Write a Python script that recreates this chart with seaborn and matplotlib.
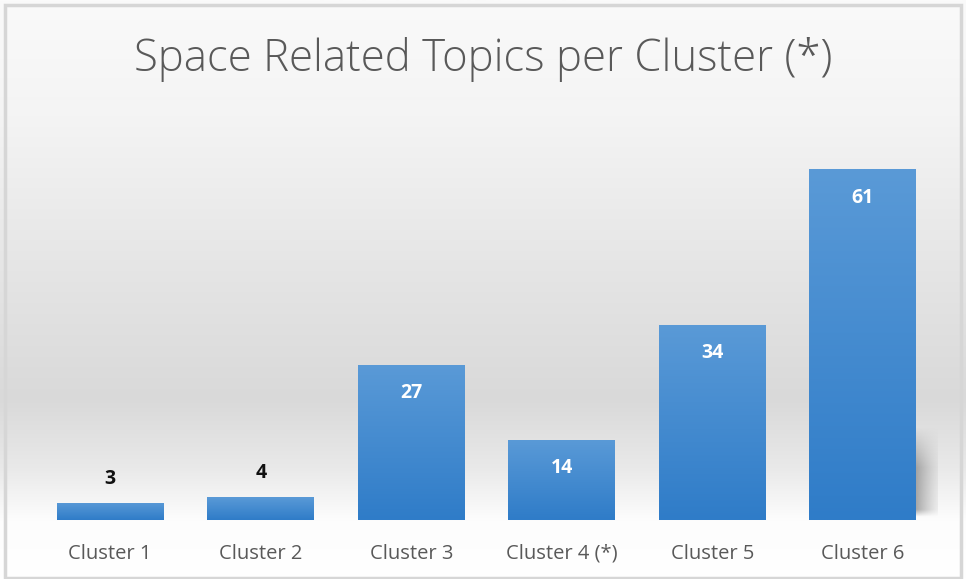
import numpy as np
import pandas as pd
import matplotlib
matplotlib.use("Agg")
import matplotlib.pyplot as plt
import seaborn as sns
from matplotlib.colors import LinearSegmentedColormap
from matplotlib.patches import Rectangle

# Data
clusters = ["Cluster 1", "Cluster 2", "Cluster 3", "Cluster 4 (*)", "Cluster 5", "Cluster 6"]
topics = [3, 4, 27, 14, 34, 61]

df = pd.DataFrame({"cluster": clusters, "topics": topics})

sns.set_theme(style="white")
plt.rcParams["font.family"] = ["Open Sans", "DejaVu Sans"]

fig = plt.figure(figsize=(9.66, 5.79), dpi=100)

# Chart area background: soft vertical gradient
bg = fig.add_axes([0, 0, 1, 1], zorder=0)
bg_cmap = LinearSegmentedColormap.from_list(
    "bg",
    [(0.0, "#ffffff"), (0.10, "#fdfdfd"), (0.19, "#e9e9e9"), (0.31, "#d9d9d9"),
     (0.55, "#e6e6e6"), (0.80, "#f4f4f4"), (1.0, "#fafafa")])
bg.imshow(np.linspace(0, 1, 256).reshape(-1, 1), aspect="auto", cmap=bg_cmap,
          origin="lower", extent=[0, 1, 0, 1])
bg.set_xlim(0, 1)
bg.set_ylim(0, 1)
bg.axis("off")
# outer border
bg.add_patch(Rectangle((0.005, 0.002), 0.99, 0.99, fill=False, edgecolor="#d6d6d6",
                       lw=2.5, transform=bg.transAxes))

ax = fig.add_axes([35 / 966, 59 / 579, 903 / 966, 402.5 / 579], zorder=1)
ax.patch.set_alpha(0)

sns.barplot(data=df, x="cluster", y="topics", color="#3a85cf", width=0.71,
            saturation=1, linewidth=0, ax=ax, zorder=2)

ax.set_ylim(0, 70)
ax.set_xlim(-0.5, 5.5)

# gradient fill on bars
bar_cmap = LinearSegmentedColormap.from_list("bar", ["#2f7cc8", "#5a9ad7"])
grad = np.linspace(0, 1, 256).reshape(-1, 1)
for p in ax.patches:
    x0, w, h = p.get_x(), p.get_width(), p.get_height()
    im = ax.imshow(grad, aspect="auto", cmap=bar_cmap, origin="lower",
                   extent=[x0, x0 + w, 0, h], zorder=3)
    im.set_clip_path(p)

# soft shadow to the right of the tallest bar
last = ax.patches[-1]
sx = last.get_x() + last.get_width()
hx = np.linspace(0, 1, 80)
fade_x = np.clip(1 - hx, 0, 1) ** 1.5
vy = np.linspace(0, 1, 120)  # bottom -> top
fade_y = np.where(vy < 0.08, vy / 0.08, 1.0) * np.clip((1 - vy) / 0.45, 0, 1)
shadow = np.outer(fade_y, fade_x)
sh_cmap = LinearSegmentedColormap.from_list("sh", [(0.55, 0.55, 0.55, 0), (0.55, 0.55, 0.55, 0.75)])
ax.imshow(shadow, aspect="auto", cmap=sh_cmap, vmin=0, vmax=1, origin="lower",
          extent=[sx, sx + 0.2, 0.5, 16], zorder=1, interpolation="bilinear")

ax.set_aspect("auto")
ax.set_xlim(-0.5, 5.5)
ax.set_ylim(0, 70)

# value labels
for i, v in enumerate(topics):
    if v < 10:
        ax.text(i, v + 4.2, str(v), ha="center", va="center", fontsize=14,
                fontweight="bold", color="#111111", zorder=5)
    else:
        ax.text(i, v - 5.0, str(v), ha="center", va="center", fontsize=14,
                fontweight="bold", color="white", zorder=5)

ax.set_xlabel("")
ax.set_ylabel("")
ax.set_yticks([])
ax.tick_params(axis="x", length=0, pad=17, labelsize=14.5, labelcolor="#595959")
for s in ax.spines.values():
    s.set_visible(False)

fig.text(0.5, 0.897, "Space Related Topics per Cluster (*)", ha="center", va="center",
         fontsize=31.5, color="#595959", fontweight="light")

fig.savefig("out.png", dpi=100)
